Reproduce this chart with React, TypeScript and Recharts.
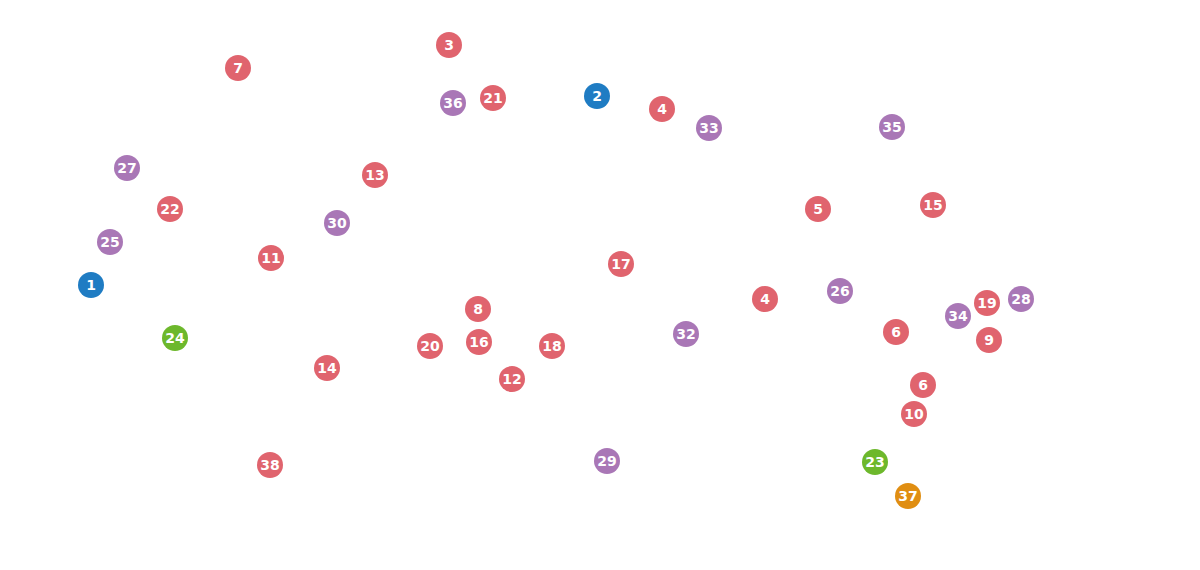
import { ScatterChart, Scatter, XAxis, YAxis } from 'recharts'

// node positions (x from left, y from top)
const RED = '#e0646e'
const PURPLE = '#a977b6'
const BLUE = '#1f7cc3'
const GREEN = '#6db82c'
const ORANGE = '#e08e12'

const redNodes = [
  { x: 449, y: 45, label: '3' },
  { x: 662, y: 109, label: '4' },
  { x: 765, y: 299, label: '4' },
  { x: 818, y: 209, label: '5' },
  { x: 896, y: 332, label: '6' },
  { x: 923, y: 385, label: '6' },
  { x: 238, y: 68, label: '7' },
  { x: 478, y: 309, label: '8' },
  { x: 989, y: 340, label: '9' },
  { x: 914, y: 414, label: '10' },
  { x: 271, y: 258, label: '11' },
  { x: 512, y: 379, label: '12' },
  { x: 375, y: 175, label: '13' },
  { x: 327, y: 368, label: '14' },
  { x: 933, y: 205, label: '15' },
  { x: 479, y: 342, label: '16' },
  { x: 621, y: 264, label: '17' },
  { x: 552, y: 346, label: '18' },
  { x: 987, y: 303, label: '19' },
  { x: 430, y: 346, label: '20' },
  { x: 493, y: 98, label: '21' },
  { x: 170, y: 209, label: '22' },
  { x: 270, y: 465, label: '38' },
]

const purpleNodes = [
  { x: 110, y: 242, label: '25' },
  { x: 840, y: 291, label: '26' },
  { x: 127, y: 168, label: '27' },
  { x: 1021, y: 299, label: '28' },
  { x: 607, y: 461, label: '29' },
  { x: 337, y: 223, label: '30' },
  { x: 686, y: 334, label: '32' },
  { x: 709, y: 128, label: '33' },
  { x: 958, y: 316, label: '34' },
  { x: 892, y: 127, label: '35' },
  { x: 453, y: 103, label: '36' },
]

const blueNodes = [
  { x: 91, y: 285, label: '1' },
  { x: 597, y: 96, label: '2' },
]

const greenNodes = [
  { x: 875, y: 462, label: '23' },
  { x: 175, y: 338, label: '24' },
]

const orangeNodes = [
  { x: 908, y: 496, label: '37' },
]

const SERIES = [
  { name: 'red', data: redNodes, color: RED },
  { name: 'purple', data: purpleNodes, color: PURPLE },
  { name: 'blue', data: blueNodes, color: BLUE },
  { name: 'green', data: greenNodes, color: GREEN },
  { name: 'orange', data: orangeNodes, color: ORANGE },
]

function makeNode(color: string) {
  return (props: any) => {
    const { cx, cy, payload } = props
    return (
      <g>
        <circle cx={cx} cy={cy} r={13} fill={color} />
        <text
          x={cx}
          y={cy}
          dy="0.36em"
          textAnchor="middle"
          fill="#fff"
          fontSize={14}
          fontWeight="bold"
          fontFamily="'DejaVu Sans', sans-serif"
        >
          {payload.label}
        </text>
      </g>
    )
  }
}

export default function App() {
  return (
    <div style={{ position: 'absolute', left: 0, top: 0, width: 1200, height: 570, background: '#fff' }}>
      <ScatterChart width={1200} height={570} margin={{ top: 0, right: 0, bottom: 0, left: 0 }}>
        <XAxis type="number" dataKey="x" domain={[0, 1200]} hide />
        <YAxis type="number" dataKey="y" domain={[0, 570]} reversed hide />
        {SERIES.map(s => (
          <Scatter
            key={s.name}
            name={s.name}
            data={s.data}
            fill={s.color}
            shape={makeNode(s.color)}
            isAnimationActive={false}
          />
        ))}
      </ScatterChart>
    </div>
  )
}
